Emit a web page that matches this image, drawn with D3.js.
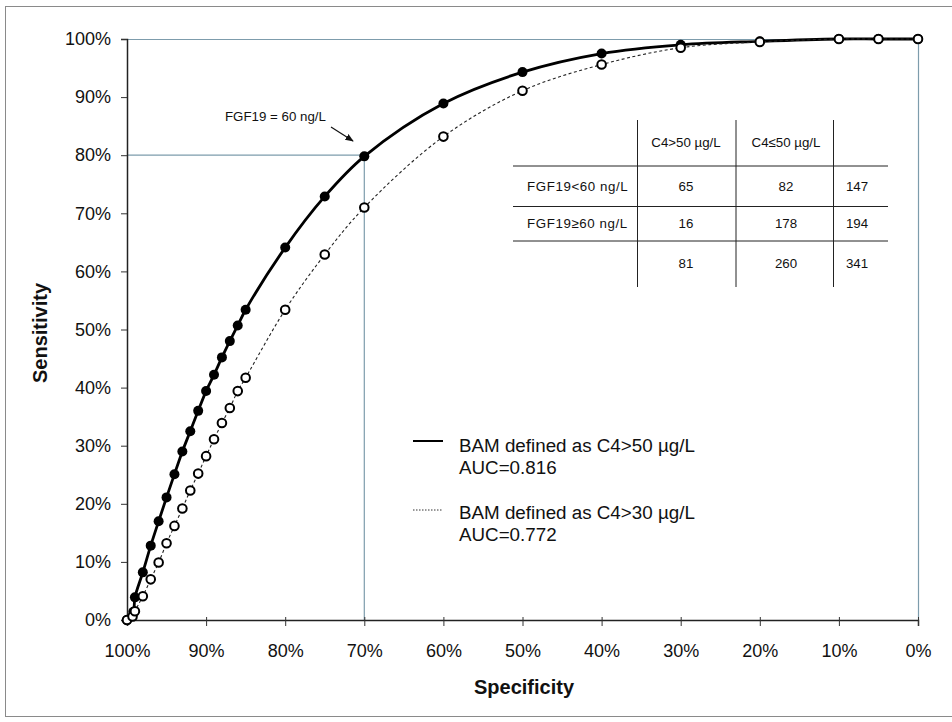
<!DOCTYPE html>
<html>
<head>
<meta charset="utf-8">
<script src="https://cdn.jsdelivr.net/npm/d3@7"></script>
<style>
  body { margin: 0; background: #fff; }
  text { font-family: "Liberation Sans", Arial, sans-serif; fill: #111; }
</style>
</head>
<body>
<svg id="chart" width="952" height="722"></svg>
<script>
// ROC curves, FGF19 vs BAM
var xTicks = [100, 90, 80, 70, 60, 50, 40, 30, 20, 10, 0];
var yTicks = [0, 10, 20, 30, 40, 50, 60, 70, 80, 90, 100];

// BAM defined as C4>50 (solid, filled dots)
var specC50 = [100, 99.2, 99, 98, 97, 96, 95, 94, 93, 92, 91, 90, 89, 88, 87, 86, 85, 80, 75, 70, 60, 50, 40, 30, 20, 10, 5, 0];
var sensC50 = [0, 1.4, 3.9, 8.2, 12.8, 17.0, 21.1, 25.1, 29.0, 32.5, 36.0, 39.4, 42.2, 45.2, 48.0, 50.7, 53.4, 64.1, 72.9, 79.8, 88.9, 94.3, 97.5, 99.0, 99.6, 100, 100, 100];

// BAM defined as C4>30 (dotted, open dots)
var specC30 = [100, 99.3, 99, 98, 97, 96, 95, 94, 93, 92, 91, 90, 89, 88, 87, 86, 85, 80, 75, 70, 60, 50, 40, 30, 20, 10, 5, 0];
var sensC30 = [0, 0.6, 1.5, 4.1, 7.0, 9.9, 13.2, 16.2, 19.2, 22.3, 25.2, 28.2, 31.1, 33.9, 36.5, 39.4, 41.7, 53.4, 62.9, 71.0, 83.2, 91.1, 95.6, 98.5, 99.5, 100, 100, 100];

var legendLabels = ['BAM defined as C4>50 µg/L', 'AUC=0.816', 'BAM defined as C4>30 µg/L', 'AUC=0.772'];

// cut-off marker
var cutSpec = 70;
var cutSens = 80;
var cutLabel = 'FGF19 = 60 ng/L';

// 2x2 table
var tableCols = ['C4>50 µg/L', 'C4≤50 µg/L'];
var tableRows = ['FGF19<60 ng/L', 'FGF19≥60 ng/L', ''];
var tableCounts = [[65, 82, 147], [16, 178, 194], [81, 260, 341]];

var svg = d3.select('#chart');
var gridColor = '#7d9cac';

// outer frame
svg.append('rect')
  .attr('x', 5.5).attr('y', 6.5).attr('width', 960).attr('height', 710)
  .attr('fill', '#fff').attr('stroke', '#8a8a8a');

var x = d3.scaleLinear().domain([100, 0]).range([127, 918]);
var y = d3.scaleLinear().domain([0, 100]).range([620, 39]);

// plot area border (top + right)
svg.append('line')
  .attr('x1', x(100)).attr('x2', x(0)).attr('y1', y(100) + 0.5).attr('y2', y(100) + 0.5)
  .attr('stroke', gridColor).attr('stroke-width', 1.2);
svg.append('line')
  .attr('x1', x(0) + 0.5).attr('x2', x(0) + 0.5).attr('y1', y(100)).attr('y2', y(0))
  .attr('stroke', gridColor).attr('stroke-width', 1.2);

// reference lines at the cut-off
svg.append('line')
  .attr('x1', x(100)).attr('x2', x(cutSpec)).attr('y1', y(cutSens)).attr('y2', y(cutSens))
  .attr('stroke', gridColor).attr('stroke-width', 1.2);
svg.append('line')
  .attr('x1', x(cutSpec)).attr('x2', x(cutSpec)).attr('y1', y(cutSens)).attr('y2', y(0))
  .attr('stroke', gridColor).attr('stroke-width', 1.2);

// axes
var xAxis = d3.axisBottom(x).tickValues(xTicks).tickSize(6).tickFormat(function(d) { return d + '%'; });
var yAxis = d3.axisLeft(y).tickValues(yTicks).tickSize(6).tickFormat(function(d) { return d + '%'; });

var gx = svg.append('g').attr('transform', 'translate(0,' + y(0) + ')').call(xAxis);
gx.select('.domain').attr('stroke', '#222').attr('stroke-width', 1.5);
gx.selectAll('.tick line').attr('stroke', '#333').attr('y1', -3);
gx.selectAll('.tick text').attr('font-size', 18).attr('dy', '0').attr('y', 37).attr('fill', '#111');

var gy = svg.append('g').attr('transform', 'translate(' + x(100) + ',0)').call(yAxis);
gy.select('.domain').attr('stroke', '#222').attr('stroke-width', 1.5);
gy.selectAll('.tick line').attr('stroke', '#333');
gy.selectAll('.tick text').attr('font-size', 18).attr('x', -16).attr('fill', '#111');

// axis titles
svg.append('text')
  .attr('x', 524).attr('y', 694).attr('text-anchor', 'middle')
  .attr('font-size', 20).attr('font-weight', 'bold')
  .text('Specificity');
svg.append('text')
  .attr('transform', 'translate(47,333) rotate(-90)').attr('text-anchor', 'middle')
  .attr('font-size', 20).attr('font-weight', 'bold')
  .text('Sensitivity');

// curves
var curveLine = d3.line()
  .x(function(d) { return x(d[0]); })
  .y(function(d) { return y(d[1]); })
  .curve(d3.curveCatmullRom.alpha(0.5));

var c50 = d3.zip(specC50, sensC50);
var c30 = d3.zip(specC30, sensC30);

svg.append('path').datum(c50)
  .attr('d', curveLine).attr('fill', 'none')
  .attr('stroke', '#000').attr('stroke-width', 2.8);
svg.selectAll('.dot50').data(c50).enter().append('circle')
  .attr('class', 'dot50')
  .attr('cx', function(d) { return x(d[0]); })
  .attr('cy', function(d) { return y(d[1]); })
  .attr('r', 5).attr('fill', '#000');

svg.append('path').datum(c30)
  .attr('d', curveLine).attr('fill', 'none')
  .attr('stroke', '#222').attr('stroke-width', 1.1).attr('stroke-dasharray', '3,2.5');
svg.selectAll('.dot30').data(c30).enter().append('circle')
  .attr('class', 'dot30')
  .attr('cx', function(d) { return x(d[0]); })
  .attr('cy', function(d) { return y(d[1]); })
  .attr('r', 4.3).attr('fill', '#fff').attr('stroke', '#000').attr('stroke-width', 2);

// annotation with arrow
svg.append('defs').append('marker')
  .attr('id', 'arrow').attr('viewBox', '0 0 10 10').attr('refX', 9).attr('refY', 5)
  .attr('markerWidth', 7).attr('markerHeight', 7).attr('orient', 'auto')
  .append('path').attr('d', 'M0,1 L10,5 L0,9 Z').attr('fill', '#111');
svg.append('text')
  .attr('x', 225).attr('y', 121).attr('font-size', 13.3)
  .text(cutLabel);
svg.append('line')
  .attr('x1', 331).attr('y1', 127).attr('x2', 353).attr('y2', 141)
  .attr('stroke', '#111').attr('stroke-width', 1.2).attr('marker-end', 'url(#arrow)');

// table
var tbl = svg.append('g');
var hLines = [166, 206.5, 241];
var vLines = [637.5, 736, 833.5];
hLines.forEach(function(v) {
  tbl.append('line').attr('x1', 513).attr('x2', 888).attr('y1', v).attr('y2', v)
    .attr('stroke', '#222').attr('stroke-width', 1);
});
vLines.forEach(function(v) {
  tbl.append('line').attr('x1', v).attr('x2', v).attr('y1', 120).attr('y2', 287)
    .attr('stroke', '#222').attr('stroke-width', 1);
});
var colCenters = [686, 786, 857];
var rowBase = [191, 228, 268];
tableCols.forEach(function(c, i) {
  tbl.append('text').attr('x', colCenters[i]).attr('y', 147)
    .attr('text-anchor', 'middle').attr('font-size', 13.3).text(c);
});
tableRows.forEach(function(r, i) {
  tbl.append('text').attr('x', 527).attr('y', rowBase[i]).attr('font-size', 13.3)
    .attr('letter-spacing', 0.6).text(r);
  tableCounts[i].forEach(function(n, j) {
    tbl.append('text').attr('x', colCenters[j]).attr('y', rowBase[i])
      .attr('text-anchor', 'middle').attr('font-size', 13.3).text(n);
  });
});

// legend
var lg = svg.append('g');
lg.append('line').attr('x1', 413).attr('x2', 443).attr('y1', 441).attr('y2', 441)
  .attr('stroke', '#000').attr('stroke-width', 2);
lg.append('line').attr('x1', 413).attr('x2', 443).attr('y1', 510).attr('y2', 510)
  .attr('stroke', '#333').attr('stroke-width', 1).attr('stroke-dasharray', '1.5,1.5');
var legendBase = [452, 474, 519, 541];
legendLabels.forEach(function(t, i) {
  lg.append('text').attr('x', 459).attr('y', legendBase[i]).attr('font-size', 18.8).text(t);
});
</script>
</body>
</html>
